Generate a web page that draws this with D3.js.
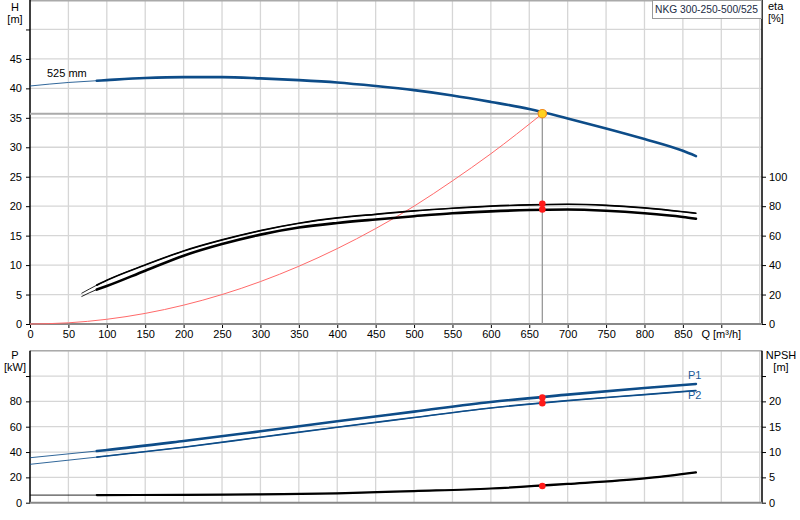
<!DOCTYPE html>
<html><head><meta charset="utf-8">
<script src="https://cdn.jsdelivr.net/npm/d3@7"></script>
<style>
html,body{margin:0;padding:0;background:#fff;}
svg text{font-family:"Liberation Sans",Arial,sans-serif;font-size:11px;}
</style></head>
<body>
<svg id="chart" width="800" height="520"></svg>
<script>
// ---------- data ----------
const qH    = [0, 50, 87, 100, 150, 200, 250, 300, 350, 400, 450, 500, 550, 600, 650, 700, 750, 800, 850, 867];
const hVals = [40.4, 41.0, 41.3, 41.4, 41.75, 41.9, 41.9, 41.7, 41.4, 41.0, 40.4, 39.7, 38.8, 37.7, 36.5, 34.9, 33.2, 31.4, 29.4, 28.5];

const qEta  = [67, 87, 100, 150, 200, 250, 300, 350, 400, 450, 500, 550, 600, 650, 700, 750, 800, 850, 867];
const eta1  = [20.8, 26.4, 29.7, 40.1, 49.6, 57.1, 63.4, 68.4, 72.0, 74.5, 76.8, 78.6, 80.0, 80.9, 81.3, 80.6, 78.8, 76.2, 75.2];
const eta2  = [18.6, 23.4, 25.8, 36.2, 46.4, 54.3, 60.7, 65.5, 68.6, 71.0, 73.2, 75.2, 76.5, 77.4, 77.7, 76.9, 75.2, 72.7, 71.5];

const qSys  = [0, 50, 100, 150, 200, 250, 300, 350, 400, 450, 500, 550, 600, 667];
const hSys  = [0, 0.2, 0.8, 1.8, 3.2, 5.0, 7.2, 9.8, 12.8, 16.2, 20.0, 24.3, 28.9, 35.7];

const qP    = [0, 87, 100, 200, 300, 400, 500, 600, 700, 800, 867];
const p1    = [35.5, 40.8, 41.6, 48.7, 56.4, 64.3, 71.9, 79.5, 85.3, 90.6, 93.7];
const p2    = [30.3, 36.0, 36.9, 43.8, 51.7, 59.6, 67.2, 74.8, 80.6, 85.3, 88.5];

const qN    = [0, 87, 200, 300, 400, 500, 600, 700, 800, 867];
const npsh  = [1.5, 1.5, 1.55, 1.65, 1.85, 2.3, 2.8, 3.7, 4.8, 6.0];

const opQ = 667, opH = 35.7, opEta = [81.6, 77.8], opP = [83.0, 78.6], opNpsh = 3.3;
const thickFrom = 87;

const qTicks   = [0,50,100,150,200,250,300,350,400,450,500,550,600,650,700,750,800,850];
const hTicks   = [0,5,10,15,20,25,30,35,40,45];
const etaTicks = [0,20,40,60,80,100];
const pTicks   = [0,20,40,60,80];
const nTicks   = [0,5,10,15,20];

// ---------- scales ----------
const svg = d3.select("#chart");
const x    = d3.scaleLinear().domain([0, 953]).range([30, 762]);
const yH   = d3.scaleLinear().domain([0, 55]).range([324, 0]);
const yEta = d3.scaleLinear().domain([0, 220]).range([324, 0]);
const yP   = d3.scaleLinear().domain([0, 120]).range([502.7, 350.7]);
const yN   = d3.scaleLinear().domain([0, 30]).range([502.7, 350.7]);

const gridC = "#d6d6d6";
const blue = "#0d4c88";

// ---------- grids ----------
const g = svg.append("g");
const vq = d3.range(50, 951, 50);
g.selectAll(".vt").data(vq).join("line")
  .attr("x1", d => x(d)).attr("x2", d => x(d)).attr("y1", yH(55)).attr("y2", yH(0))
  .attr("stroke", gridC).attr("stroke-width", 1.3);
g.selectAll(".ht").data(d3.range(5, 56, 5)).join("line")
  .attr("x1", x(0)).attr("x2", x(953)).attr("y1", d => yH(d)).attr("y2", d => yH(d))
  .attr("stroke", gridC).attr("stroke-width", 1.3);
g.selectAll(".vb").data(vq).join("line")
  .attr("x1", d => x(d)).attr("x2", d => x(d)).attr("y1", yP(120)).attr("y2", yP(0))
  .attr("stroke", gridC).attr("stroke-width", 1.3);
g.selectAll(".hb").data(d3.range(20, 121, 20)).join("line")
  .attr("x1", x(0)).attr("x2", x(953)).attr("y1", d => yP(d)).attr("y2", d => yP(d))
  .attr("stroke", gridC).attr("stroke-width", 1.3);
svg.append("line").attr("x1", x(0)).attr("x2", x(953)).attr("y1", 0.7).attr("y2", 0.7).attr("stroke", "#aaa").attr("stroke-width", 1.4);
svg.append("line").attr("x1", x(0)).attr("x2", x(953)).attr("y1", yP(120)).attr("y2", yP(120)).attr("stroke", "#aaa").attr("stroke-width", 1.4);

// ---------- axes ----------
function styleAxis(sel){
  sel.select(".domain").remove();
  sel.selectAll(".tick line").attr("stroke", "#000");
  sel.selectAll(".tick text").attr("fill", "#000").style("font-family", "Liberation Sans, Arial, sans-serif").style("font-size", "11px");
}
svg.append("g").attr("transform", `translate(${x(0)},0)`)
  .call(d3.axisLeft(yH).tickValues(d3.range(0, 51, 5)).tickSize(4).tickPadding(4)
        .tickFormat(d => hTicks.includes(d) ? d : ""))
  .call(styleAxis);
svg.append("g").attr("transform", `translate(${x(953)},0)`)
  .call(d3.axisRight(yEta).tickValues(etaTicks).tickSize(4).tickPadding(3))
  .call(styleAxis);
svg.append("g").attr("transform", `translate(0,${yH(0)})`)
  .call(d3.axisBottom(x).tickValues(qTicks.concat([900])).tickSize(4).tickPadding(2)
        .tickFormat(d => d === 900 ? "" : d))
  .call(styleAxis);
svg.append("g").attr("transform", `translate(${x(0)},0)`)
  .call(d3.axisLeft(yP).tickValues([0,20,40,60,80,100]).tickSize(4).tickPadding(4)
        .tickFormat(d => pTicks.includes(d) ? d : ""))
  .call(styleAxis);
svg.append("g").attr("transform", `translate(${x(953)},0)`)
  .call(d3.axisRight(yN).tickValues([0,5,10,15,20,25]).tickSize(4).tickPadding(3)
        .tickFormat(d => nTicks.includes(d) ? d : ""))
  .call(styleAxis);

svg.append("line").attr("x1", x(0)).attr("x2", x(0)).attr("y1", 0).attr("y2", yH(0)).attr("stroke", "#000").attr("stroke-width", 1.5);
svg.append("line").attr("x1", x(953)).attr("x2", x(953)).attr("y1", 0).attr("y2", yH(0)).attr("stroke", "#000").attr("stroke-width", 1.5);
svg.append("line").attr("x1", x(0)).attr("x2", x(0)).attr("y1", yP(120)).attr("y2", yP(0)).attr("stroke", "#000").attr("stroke-width", 1.5);
svg.append("line").attr("x1", x(953)).attr("x2", x(953)).attr("y1", yP(120)).attr("y2", yP(0)).attr("stroke", "#000").attr("stroke-width", 1.5);
svg.append("line").attr("x1", x(0)).attr("x2", x(953)).attr("y1", yH(0)).attr("y2", yH(0)).attr("stroke", "#888").attr("stroke-width", 2);
svg.append("line").attr("x1", x(0)).attr("x2", x(953)).attr("y1", yP(0)).attr("y2", yP(0)).attr("stroke", "#888").attr("stroke-width", 2);

const T = (tx, ty, s, anchor, fill) => svg.append("text").attr("x", tx).attr("y", ty).attr("text-anchor", anchor || "start").attr("fill", fill || "#000").text(s);
T(15, 11, "H", "middle");
T(15, 23, "[m]", "middle");
T(768, 10, "eta");
T(768, 22, "[%]");
T(15, 359, "P", "middle");
T(15, 371, "[kW]", "middle");
T(781, 359, "NPSH", "middle");
T(781, 371, "[m]", "middle");
T(x(900), 338, "Q [m³/h]", "middle");

// ---------- curves ----------
const pts = (qs, vs) => qs.map((q, i) => [q, vs[i]]);
const lineOn = ys => d3.line().x(d => x(d[0])).y(d => ys(d[1])).curve(d3.curveMonotoneX);

function pumpCurve(data, ys, color, wThick){
  svg.append("path").datum(data).attr("d", lineOn(ys)).attr("fill", "none")
    .attr("stroke", color).attr("stroke-width", 1).attr("stroke-opacity", 0.85);
  svg.append("path").datum(data.filter(d => d[0] >= thickFrom)).attr("d", lineOn(ys)).attr("fill", "none")
    .attr("stroke", color).attr("stroke-width", wThick).attr("stroke-linecap", "round");
}

svg.append("line").attr("x1", x(0)).attr("x2", x(opQ)).attr("y1", yH(opH)).attr("y2", yH(opH))
  .attr("stroke", "#aaa").attr("stroke-width", 2);
svg.append("line").attr("x1", x(opQ)).attr("x2", x(opQ)).attr("y1", yH(opH)).attr("y2", yH(0))
  .attr("stroke", "#999").attr("stroke-width", 1.3);

svg.append("path").datum(pts(qSys, hSys)).attr("d", lineOn(yH)).attr("fill", "none")
  .attr("stroke", "#ff6a6a").attr("stroke-width", 1);

pumpCurve(pts(qH, hVals), yH, blue, 2.6);
pumpCurve(pts(qEta, eta1), yEta, "#000", 1.7);
pumpCurve(pts(qEta, eta2), yEta, "#000", 2.6);
pumpCurve(pts(qP, p1), yP, blue, 2.6);
pumpCurve(pts(qP, p2), yP, blue, 1.6);
pumpCurve(pts(qN, npsh), yN, "#000", 2.2);

T(47, 77, "525 mm");
T(688, 379, "P1", "start", "#1a5a96");
T(688, 399, "P2", "start", "#1a5a96");

const dot = (cx, cy) => svg.append("circle").attr("cx", cx).attr("cy", cy).attr("r", 3.3).attr("fill", "#ff1a1a");
dot(x(opQ), yEta(opEta[0]));
dot(x(opQ), yEta(opEta[1]));
dot(x(opQ), yP(opP[0]));
dot(x(opQ), yP(opP[1]));
dot(x(opQ), yN(opNpsh));
svg.append("circle").attr("cx", x(opQ)).attr("cy", yH(opH)).attr("r", 4.2)
  .attr("fill", "#ffd21f").attr("stroke", "#f08a1a").attr("stroke-width", 1.2);

// title box
svg.append("rect").attr("x", 652.5).attr("y", 0.5).attr("width", 109).attr("height", 18)
  .attr("fill", "#fff").attr("stroke", "#999");
svg.append("text").attr("x", 655).attr("y", 13).attr("fill", "#1b2b44")
  .attr("textLength", 103).attr("lengthAdjust", "spacingAndGlyphs")
  .style("font-size", "10.5px").text("NKG 300-250-500/525");
</script>
</body></html>
